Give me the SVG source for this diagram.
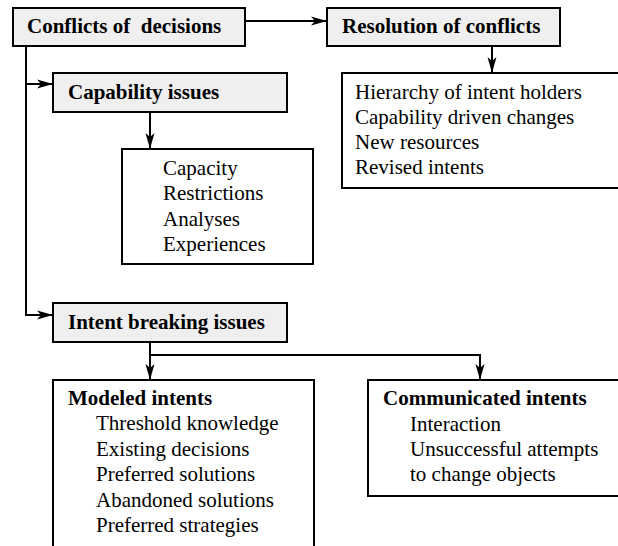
<svg xmlns="http://www.w3.org/2000/svg" width="618" height="546" viewBox="0 0 618 546">
  <defs>
    <marker id="arrow" markerUnits="userSpaceOnUse" markerWidth="18" markerHeight="12" refX="16" refY="6" orient="auto" overflow="visible">
      <path d="M0,1.5 L16,6 L0,10.5 L4,6 Z" fill="#000"/>
    </marker>
  </defs>
  <style>
    .head { fill: #efefef; stroke: #000; stroke-width: 2; }
    .box { fill: #fff; stroke: #000; stroke-width: 2; }
    .line { fill: none; stroke: #000; stroke-width: 2; }
    .b { font-weight: bold; }
  </style>
  <rect width="618" height="546" fill="#fff"/>

  <g id="connectors">
    <line class="line" x1="245" y1="21" x2="327" y2="21" marker-end="url(#arrow)"/>
    <line class="line" x1="492" y1="46" x2="492" y2="73" marker-end="url(#arrow)"/>
    <polyline class="line" points="26,46 26,315 53,315" marker-end="url(#arrow)"/>
    <line class="line" x1="26" y1="84" x2="53" y2="84" marker-end="url(#arrow)"/>
    <line class="line" x1="150" y1="112" x2="150" y2="149" marker-end="url(#arrow)"/>
    <line class="line" x1="150" y1="342" x2="150" y2="380" marker-end="url(#arrow)"/>
    <polyline class="line" points="150,355 480,355 480,380" marker-end="url(#arrow)"/>
  </g>

  <g font-family="Liberation Serif, Times New Roman, serif" font-size="21" fill="#000">
    <g id="conflicts">
      <rect class="head" x="13" y="8" width="232" height="38"/>
      <text class="b" x="27" y="33" xml:space="preserve">Conflicts of  decisions</text>
    </g>

    <g id="resolution">
      <rect class="head" x="327" y="8" width="233" height="38"/>
      <text class="b" x="342" y="33">Resolution of conflicts</text>
    </g>

    <g id="resolution-items">
      <rect class="box" x="342" y="73" width="290" height="115"/>
      <text x="355" y="99">Hierarchy of intent holders</text>
      <text x="355" y="124">Capability driven changes</text>
      <text x="355" y="149">New resources</text>
      <text x="355" y="174">Revised intents</text>
    </g>

    <g id="capability">
      <rect class="head" x="53" y="73" width="234" height="39"/>
      <text class="b" x="68" y="99">Capability issues</text>
    </g>

    <g id="capability-items">
      <rect class="box" x="122" y="149" width="191" height="115"/>
      <text x="163" y="175">Capacity</text>
      <text x="163" y="200">Restrictions</text>
      <text x="163" y="226">Analyses</text>
      <text x="163" y="251">Experiences</text>
    </g>

    <g id="intent-breaking">
      <rect class="head" x="53" y="303" width="234" height="39"/>
      <text class="b" x="68" y="329">Intent breaking issues</text>
    </g>

    <g id="modeled">
      <rect class="box" x="53" y="380" width="261" height="190"/>
      <text class="b" x="68" y="405">Modeled intents</text>
      <text x="96" y="430">Threshold knowledge</text>
      <text x="96" y="456">Existing decisions</text>
      <text x="96" y="481">Preferred solutions</text>
      <text x="96" y="507">Abandoned solutions</text>
      <text x="96" y="532">Preferred strategies</text>
    </g>

    <g id="communicated">
      <rect class="box" x="368" y="380" width="260" height="116"/>
      <text class="b" x="383" y="405">Communicated intents</text>
      <text x="410" y="431">Interaction</text>
      <text x="410" y="456">Unsuccessful attempts</text>
      <text x="410" y="481">to change objects</text>
    </g>
  </g>
</svg>
